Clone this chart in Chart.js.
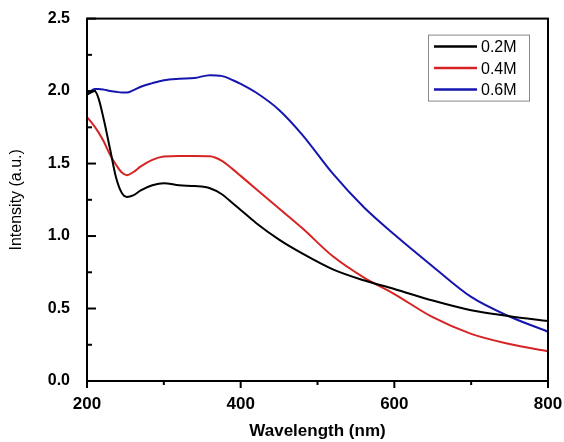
<!DOCTYPE html>
<html>
<head>
<meta charset="utf-8">
<script src="https://cdn.jsdelivr.net/npm/chart.js@4.4.0/dist/chart.umd.min.js"></script>
<style>
  html, body { margin: 0; padding: 0; background: #fff; }
  #wrap { width: 564px; height: 442px; }
</style>
</head>
<body>
<div id="wrap"><canvas id="chart-1" width="564" height="442"></canvas></div>
<script>
var wavelength = [200, 205, 210, 215, 222, 230, 238, 245, 252, 260, 270, 285, 300, 320, 340, 360, 375, 390, 400, 420, 450, 480, 520, 560, 600, 650, 700, 750, 800];
var intensity_02M = [1.975, 1.99, 2.00, 1.95, 1.80, 1.60, 1.40, 1.30, 1.27, 1.28, 1.315, 1.35, 1.365, 1.35, 1.345, 1.33, 1.29, 1.225, 1.18, 1.09, 0.975, 0.88, 0.77, 0.695, 0.635, 0.555, 0.488, 0.447, 0.413];
var intensity_04M = [1.82, 1.79, 1.755, 1.715, 1.65, 1.56, 1.49, 1.44, 1.42, 1.44, 1.48, 1.525, 1.548, 1.552, 1.552, 1.55, 1.52, 1.46, 1.415, 1.325, 1.19, 1.055, 0.86, 0.715, 0.60, 0.44, 0.325, 0.255, 0.205];
var intensity_06M = [1.975, 2.00, 2.015, 2.015, 2.01, 2.00, 1.995, 1.99, 1.99, 2.005, 2.03, 2.055, 2.075, 2.085, 2.09, 2.11, 2.105, 2.075, 2.05, 1.99, 1.87, 1.70, 1.43, 1.20, 1.01, 0.79, 0.58, 0.445, 0.34];
var series_labels = ["0.2M", "0.4M", "0.6M"];
var series_colors = ["#000000", "#d62424", "#1515b0"];

function toPoints(ys) {
    var pts = [];
    for (let i = 0; i < wavelength.length; i++) {
        pts.push({ x: wavelength[i], y: ys[i] });
    }
    return pts;
}

Chart.defaults.font.family = 'Arial, "Liberation Sans", sans-serif';
Chart.defaults.color = '#000';

// box, inner/outer ticks and the legend, all placed from the chart's scales
const framePlugin = {
    id: 'frame',
    afterDraw(chart) {
        const ctx = chart.ctx;
        const a = chart.chartArea;
        const xs = chart.scales.x;
        const ys = chart.scales.y;
        ctx.save();
        ctx.strokeStyle = '#000';
        ctx.lineWidth = 2;
        ctx.strokeRect(a.left, a.top, a.right - a.left, a.bottom - a.top);

        // x ticks (outside)
        for (let v = xs.min; v <= xs.max; v += 100) {
            const px = xs.getPixelForValue(v);
            const len = (v % 200 === 0) ? 7 : 4;
            ctx.beginPath();
            ctx.moveTo(px, a.bottom);
            ctx.lineTo(px, a.bottom + len);
            ctx.stroke();
        }
        // y ticks (inside)
        for (let i = 0; i <= 10; i++) {
            const v = i * 0.25;
            const py = ys.getPixelForValue(v);
            const len = (i % 2 === 0) ? 9 : 5;
            ctx.beginPath();
            ctx.moveTo(a.left, py);
            ctx.lineTo(a.left + len, py);
            ctx.stroke();
        }

        // legend
        const bx = a.right - 120, by = a.top + 16, bw = 101, bh = 66;
        ctx.lineWidth = 1;
        ctx.strokeStyle = '#888';
        ctx.strokeRect(bx + 0.5, by + 0.5, bw, bh);
        ctx.font = '16px Arial, "Liberation Sans", sans-serif';
        ctx.textBaseline = 'middle';
        ctx.textAlign = 'left';
        chart.data.datasets.forEach(function(ds, i) {
            const yy = by + 12 + i * 21.5;
            ctx.strokeStyle = ds.borderColor;
            ctx.lineWidth = 2.5;
            ctx.beginPath();
            ctx.moveTo(bx + 6, yy);
            ctx.lineTo(bx + 49, yy);
            ctx.stroke();
            ctx.fillStyle = '#000';
            ctx.fillText(ds.label, bx + 53, yy + 1);
        });
        ctx.restore();
    }
};

const ctx = document.getElementById("chart-1").getContext("2d");
const myChart = new Chart(ctx, {
    type: "line",
    data: {
        datasets: [
            { label: series_labels[0], data: toPoints(intensity_02M), borderColor: series_colors[0], backgroundColor: series_colors[0] },
            { label: series_labels[1], data: toPoints(intensity_04M), borderColor: series_colors[1], backgroundColor: series_colors[1] },
            { label: series_labels[2], data: toPoints(intensity_06M), borderColor: series_colors[2], backgroundColor: series_colors[2] }
        ]
    },
    options: {
        responsive: false,
        animation: false,
        datasets: {
            line: {
                borderWidth: 2,
                pointRadius: 0,
                cubicInterpolationMode: 'monotone',
                fill: false
            }
        },
        layout: {
            padding: { left: 0, right: 2, top: 18, bottom: 0 }
        },
        plugins: {
            legend: { display: false },
            tooltip: { enabled: false }
        },
        scales: {
            x: {
                type: 'linear',
                min: 200,
                max: 800,
                grid: { display: false },
                border: { display: false },
                ticks: {
                    stepSize: 200,
                    padding: 5,
                    maxRotation: 0,
                    font: { size: 17, weight: 'bold' }
                },
                title: {
                    display: true,
                    text: 'Wavelength (nm)',
                    font: { size: 17, weight: 'bold' },
                    padding: { top: 6, bottom: 0 }
                },
                afterFit: function(scale) {
                    scale.height = 61;
                    scale.paddingRight = 16;
                }
            },
            y: {
                min: 0,
                max: 2.5,
                grid: { display: false },
                border: { display: false },
                ticks: {
                    stepSize: 0.5,
                    padding: 9,
                    font: { size: 16, weight: 'bold' },
                    callback: function(v) { return v.toFixed(1); }
                },
                title: {
                    display: true,
                    text: 'Intensity (a.u.)',
                    font: { size: 16 },
                    padding: { top: 7, bottom: 0 }
                },
                afterFit: function(scale) { scale.width = 87; }
            }
        }
    },
    plugins: [framePlugin]
});
</script>
</body>
</html>
